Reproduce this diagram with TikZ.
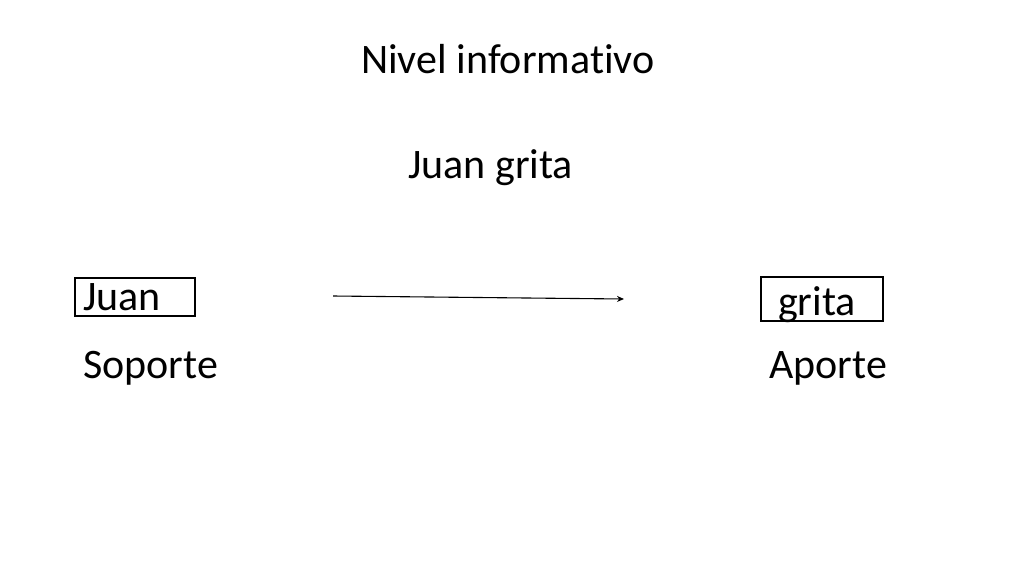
\documentclass[tikz,border=0pt]{standalone}
\usepackage{fontspec}
\setmainfont{Carlito}[RawFeature=-liga]
\usetikzlibrary{arrows.meta}
\begin{document}
\begin{tikzpicture}[x=1pt,y=-1pt,
  lbl/.style={anchor=base west,inner sep=0pt,font=\fontsize{42}{48}\selectfont},
  wordbox/.style={draw=black,line width=1.1pt,inner sep=0pt,fill=none},
  conn/.style={line width=1.1pt,-{Stealth[length=7pt,width=6pt]}}]
\useasboundingbox[fill=white] (0,0) rectangle (1024,576);
\node[lbl] (title) at (361,73) {Nivel informativo};
\node[lbl] (sentence) at (408,178) {Juan grita};
\node[wordbox,minimum width=120pt,minimum height=38pt] (juanbox) at (135,297) {};
\node[lbl] (juan) at (83,310) {Juan};
\node[wordbox,minimum width=122pt,minimum height=44pt] (gritabox) at (822,299) {};
\node[lbl] (grita) at (778,315) {grita};
\node[lbl] (soporte) at (83,378) {Soporte};
\node[lbl] (aporte) at (769,378) {Aporte};
\coordinate (arrowstart) at (333,296);
\coordinate (arrowend) at (624,299);
\draw[conn] (arrowstart) -- (arrowend);
\end{tikzpicture}
\end{document}
